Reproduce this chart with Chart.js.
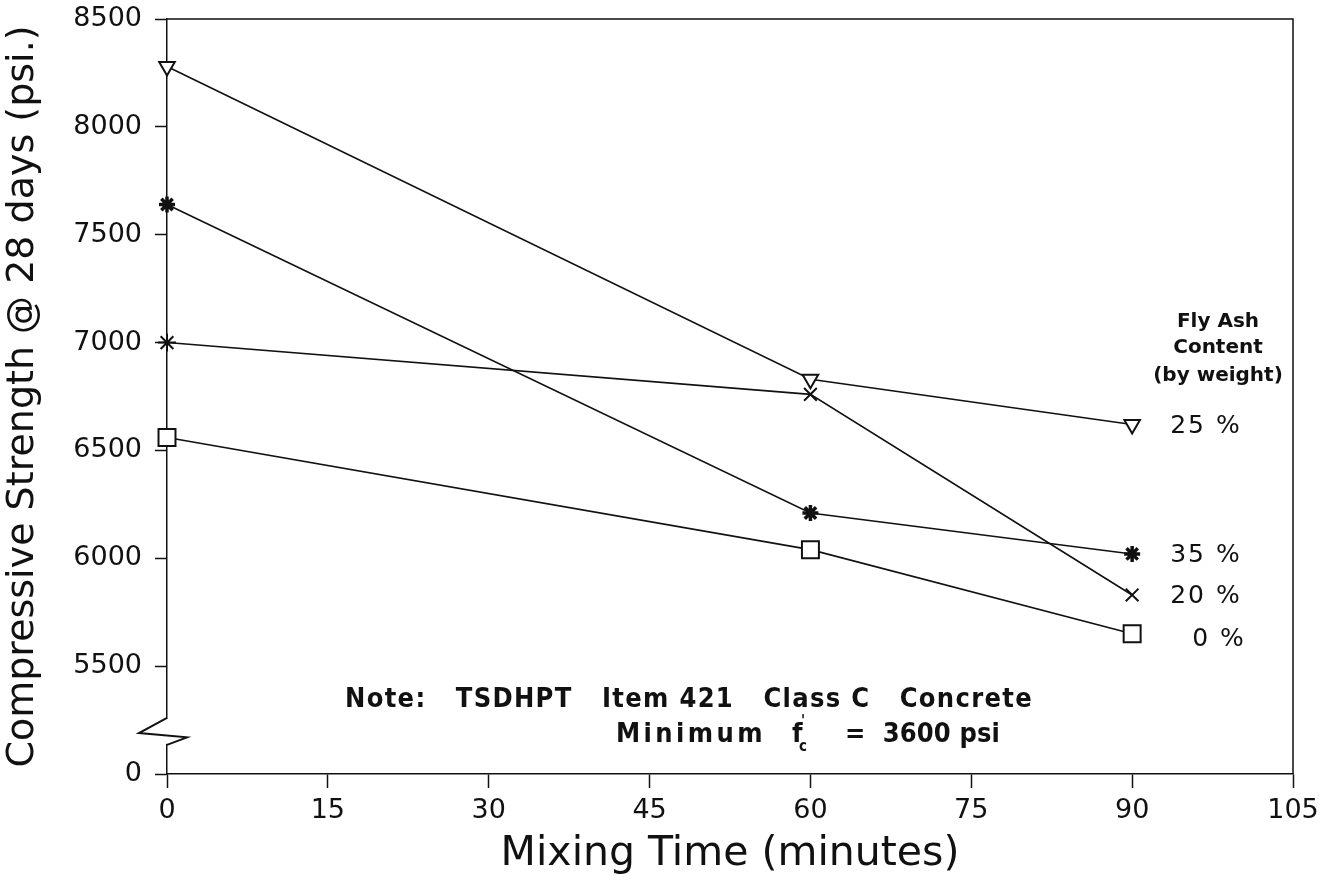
<!DOCTYPE html>
<html lang="en">
<head>
  <meta charset="UTF-8">
  <title>Compressive Strength vs Mixing Time</title>
  <script src="https://cdn.jsdelivr.net/npm/chart.js"></script>
  <style>
    html, body { margin: 0; padding: 0; background: #fff; }
    #wrap { width: 1330px; height: 883px; }
  </style>
</head>
<body>
  <div id="wrap"><canvas id="myChart" width="1330" height="883"></canvas></div>

  <script>
    // data
    const mixTimes = [0, 60, 90];
    const ash25 = [8280, 6830, 6620];
    const ash35 = [7640, 6210, 6020];
    const ash20 = [7000, 6760, 5830];
    const ash0 = [6560, 6040, 5650];
    const seriesLabels = ['25 %', '35 %', '20 %', '0 %'];
    const xTicks = [0, 15, 30, 45, 60, 75, 90, 105];
    const yTicks = [5000, 5500, 6000, 6500, 7000, 7500, 8000, 8500]; // 5000 stands for the broken "0"

    const FONT = "'DejaVu Sans', Arial, sans-serif";
    const NARROW = "'Liberation Sans Narrow', 'DejaVu Sans Condensed', 'DejaVu Sans', sans-serif";

    function pts(ys) {
      return mixTimes.map((x, i) => ({ x: x, y: ys[i] }));
    }

    function ds(label, ys, style, radius, extra) {
      return Object.assign({
        label: label,
        data: pts(ys),
        showLine: true,
        clip: false,
        borderColor: '#111',
        borderWidth: 1.6,
        backgroundColor: '#fff',
        pointBorderColor: '#111',
        pointBorderWidth: 2,
        pointStyle: style,
        pointRadius: radius,
        pointHoverRadius: radius
      }, extra || {});
    }

    function spaced(c, text, x, y, sp) {
      c.letterSpacing = sp + 'px';
      c.fillText(text, x, y);
      c.letterSpacing = '0px';
    }

    // stretch a line of text to a given width with letter spacing
    function fitted(c, text, x, y, width) {
      c.letterSpacing = '0px';
      const nat = c.measureText(text).width;
      spaced(c, text, x, y, (width - nat) / text.length);
    }

    // frame, axis break and in-plot text
    const decor = {
      id: 'decor',
      beforeDatasetsDraw(chart) {
        const c = chart.ctx;
        const a = chart.chartArea;
        const sx = chart.scales.x, sy = chart.scales.y;
        c.save();
        c.strokeStyle = '#111';
        c.lineWidth = 1.5;
        c.beginPath();
        c.moveTo(a.left, a.top); c.lineTo(a.right, a.top); c.lineTo(a.right, a.bottom);
        c.stroke();

        // axis break
        const xb = sx.getPixelForValue(0);
        const y1 = sy.getPixelForValue(5260), y2 = sy.getPixelForValue(5190);
        const y3 = sy.getPixelForValue(5170), y4 = sy.getPixelForValue(5135);
        c.fillStyle = '#fff';
        c.fillRect(xb - 3, y1 + 1, 6, y4 - y1 - 2);
        c.lineWidth = 2;
        c.beginPath();
        c.moveTo(xb, y1);
        c.lineTo(xb - 28, y2);
        c.lineTo(xb + 20, y3);
        c.lineTo(xb, y4);
        c.stroke();
        c.restore();
      },
      afterDraw(chart) {
        const c = chart.ctx;
        const sx = chart.scales.x, sy = chart.scales.y;
        c.save();
        c.fillStyle = '#111';
        c.textBaseline = 'middle';

        // legend block
        c.textAlign = 'center';
        c.font = "bold 20px " + FONT;
        c.fillText('Fly Ash', 1218, 322);
        c.fillText('Content', 1218, 348);
        c.fillText('(by weight)', 1218, 376);

        c.textAlign = 'left';
        c.font = "25px " + FONT;
        const lastX = sx.getPixelForValue(90) + 38;
        [[seriesLabels[0], ash25], [seriesLabels[1], ash35], [seriesLabels[2], ash20]].forEach(([t, ys]) => {
          spaced(c, t, lastX, sy.getPixelForValue(ys[2]) + 2, 2);
        });
        spaced(c, seriesLabels[3], lastX + 22, sy.getPixelForValue(ash0[2]) + 6, 2);

        // note
        c.font = "bold 27px " + NARROW;
        fitted(c, 'Note:   TSDHPT   Item 421   Class C   Concrete', 345, 700, 688);
        fitted(c, 'Minimum', 616, 735, 150);
        c.fillText('f', 792, 735);
        c.font = "bold 15px " + NARROW;
        c.fillText('c', 799, 747);
        c.fillText("'", 801, 722);
        c.font = "bold 27px " + NARROW;
        fitted(c, '=  3600 psi', 845, 735, 155);
        c.restore();
      }
    };

    const ctx = document.getElementById('myChart').getContext('2d');
    new Chart(ctx, {
      type: 'scatter',
      data: {
        datasets: [
          ds(seriesLabels[0], ash25, 'triangle', 9, { rotation: 180 }),
          ds(seriesLabels[1], ash35, 'star', 8, { pointBorderWidth: 3.5 }),
          ds(seriesLabels[2], ash20, ['star', 'crossRot', 'crossRot'], 9),
          ds(seriesLabels[3], ash0, 'rect', 12)
        ]
      },
      options: {
        responsive: false,
        animation: false,
        layout: { padding: { top: 19, right: 37, left: 0, bottom: 0 } },
        plugins: {
          legend: { display: false },
          tooltip: { enabled: false }
        },
        scales: {
          x: {
            type: 'linear',
            min: 0, max: 105,
            afterBuildTicks: s => { s.ticks = xTicks.map(v => ({ value: v })); },
            afterFit: s => { s.height = 109; s.paddingLeft = 0; s.paddingRight = 0; },
            grid: { drawOnChartArea: false, color: '#111', tickLength: 14, tickWidth: 1.5 },
            border: { color: '#111', width: 1.5 },
            ticks: { color: '#111', font: { family: FONT, size: 27 }, padding: 7 },
            title: { display: true, text: 'Mixing Time (minutes)', color: '#111',
                     font: { family: FONT, size: 41 }, padding: { top: 2 } }
          },
          y: {
            min: 5000, max: 8500,
            afterBuildTicks: s => { s.ticks = yTicks.map(v => ({ value: v })); },
            afterFit: s => { s.width = 167; s.paddingTop = 0; s.paddingBottom = 0; },
            grid: { drawOnChartArea: false, color: '#111', tickLength: 12, tickWidth: 1.5 },
            border: { color: '#111', width: 1.5 },
            ticks: { color: '#111', font: { family: FONT, size: 27 }, padding: 13,
                     callback: v => v === 5000 ? '0' : String(v) },
            title: { display: true, text: 'Compressive Strength @ 28 days (psi.)', color: '#111',
                     font: { family: FONT, size: 38 }, padding: { top: 0, bottom: 0 } }
          }
        }
      },
      plugins: [decor]
    });
  </script>
</body>
</html>
